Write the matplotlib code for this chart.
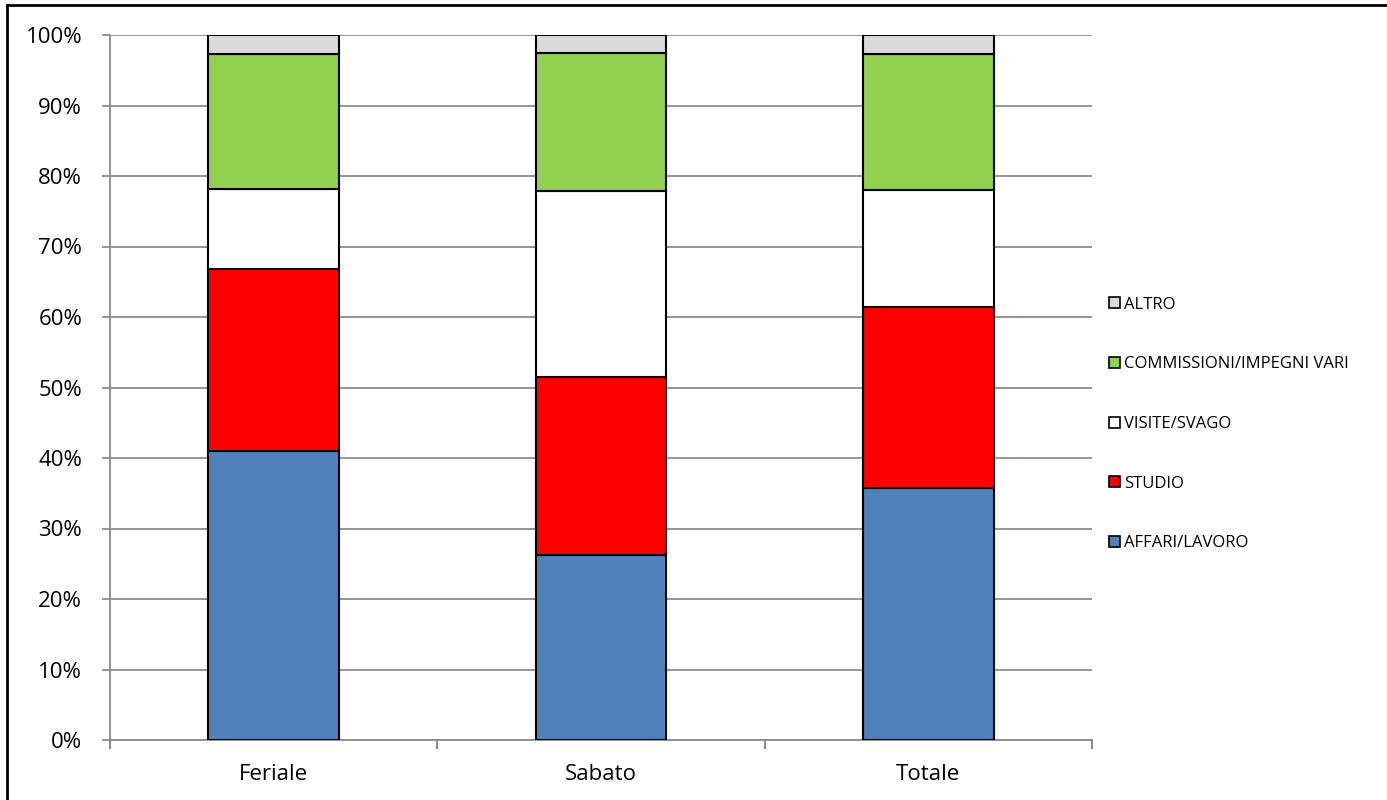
import numpy as np
import matplotlib.pyplot as plt
from matplotlib.lines import Line2D
from matplotlib.patches import Patch

plt.rcParams['font.family'] = ['Open Sans', 'DejaVu Sans']

# quote per motivo dello spostamento (%)
giorni = ['Feriale', 'Sabato', 'Totale']
affari = [41.0, 26.2, 35.8]
studio = [25.8, 25.3, 25.6]
visite = [11.4, 26.4, 16.6]
commissioni = [19.1, 19.5, 19.3]
altro = [2.7, 2.6, 2.7]

serie = [
    ('AFFARI/LAVORO', affari, '#4F81BD'),
    ('STUDIO', studio, '#FF0000'),
    ('VISITE/SVAGO', visite, '#FFFFFF'),
    ('COMMISSIONI/IMPEGNI VARI', commissioni, '#92D050'),
    ('ALTRO', altro, '#D9D9D9'),
]

fig = plt.figure(figsize=(13.87, 8), dpi=100)
ax = fig.add_axes([110 / 1387, 60 / 800, 982 / 1387, 705 / 800])

x = np.arange(len(giorni))
bottom = np.zeros(len(giorni))
for nome, valori, colore in serie:
    ax.bar(x, valori, 0.4, bottom=bottom, color=colore, edgecolor='black',
           linewidth=1.5, zorder=3)
    bottom += np.array(valori)

ax.set_xlim(-0.5, 2.5)
ax.set_ylim(0, 100)
ax.set_yticks(np.arange(0, 101, 10))
ax.set_yticklabels([f'{v}%' for v in range(0, 101, 10)], fontsize=16)
ax.yaxis.grid(True, color='#8C8C8C', linewidth=1.3, zorder=0)

ax.set_xticks(x)
ax.set_xticklabels(giorni, fontsize=16)
ax.tick_params(axis='x', length=0, pad=17)
ax.tick_params(axis='y', length=6, color='#8C8C8C', width=1.3, pad=14)
for b in [-0.5, 0.5, 1.5, 2.5]:
    ax.plot([b, b], [0, -0.012], transform=ax.get_xaxis_transform(),
            color='#8C8C8C', linewidth=1.5, clip_on=False)

for lato in ['top', 'right']:
    ax.spines[lato].set_visible(False)
for lato in ['left', 'bottom']:
    ax.spines[lato].set_color('#8C8C8C')
    ax.spines[lato].set_linewidth(1.3)

handles = [Patch(facecolor=c, edgecolor='black', linewidth=1.2, label=n)
           for n, v, c in reversed(serie)]
fig.legend(handles=handles, loc='upper left', bbox_to_anchor=(1102 / 1387, 1 - 290 / 800),
           frameon=False, fontsize=12, handlelength=0.65, handleheight=0.65,
           handletextpad=0.3, labelspacing=2.62, borderaxespad=0)

# cornice esterna
fig.add_artist(Line2D([7 / 1387, 1], [1 - 5 / 800, 1 - 5 / 800], color='black', linewidth=2))
fig.add_artist(Line2D([7 / 1387, 7 / 1387], [0, 1 - 5 / 800], color='black', linewidth=2))

fig.savefig('out.png', dpi=100)
